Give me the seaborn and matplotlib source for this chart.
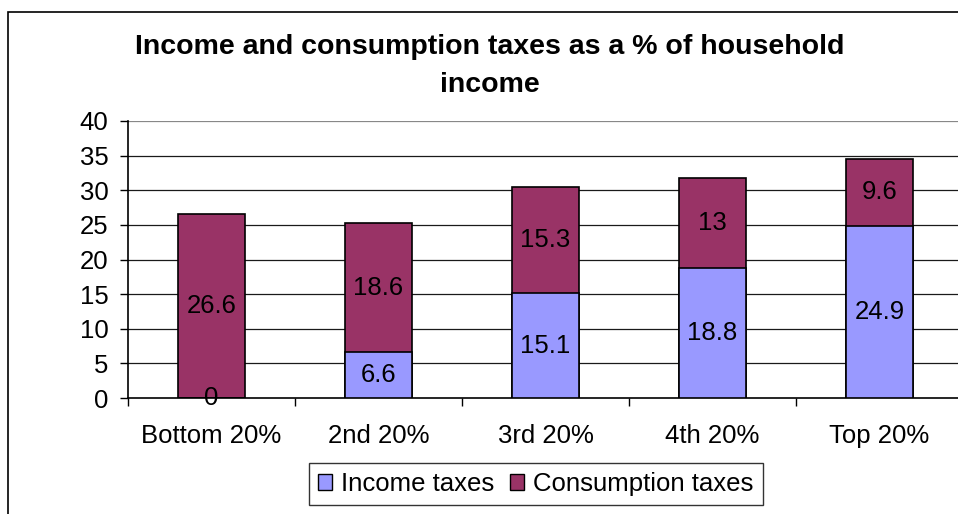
import matplotlib
matplotlib.use("Agg")
import matplotlib.pyplot as plt
import seaborn as sns
import pandas as pd
from matplotlib.patches import Rectangle, Patch

categories = ["Bottom 20%", "2nd 20%", "3rd 20%", "4th 20%", "Top 20%"]
income_taxes = [0, 6.6, 15.1, 18.8, 24.9]
consumption_taxes = [26.6, 18.6, 15.3, 13, 9.6]
income_labels = ["0", "6.6", "15.1", "18.8", "24.9"]
consumption_labels = ["26.6", "18.6", "15.3", "13", "9.6"]
y_ticks = [0, 5, 10, 15, 20, 25, 30, 35, 40]

sns.set_theme(style="white")
plt.rcParams["font.family"] = ["Liberation Sans", "DejaVu Sans"]
plt.rcParams["text.color"] = "black"
plt.rcParams["xtick.color"] = "black"
plt.rcParams["ytick.color"] = "black"
plt.rcParams["axes.labelcolor"] = "black"

df = pd.DataFrame({
    "category": categories,
    "income": income_taxes,
    "consumption": consumption_taxes,
})
df["total"] = df["income"] + df["consumption"]

fig = plt.figure(figsize=(9.58, 5.14), dpi=100)
ax = fig.add_axes([128 / 958, 1 - 398 / 514, 835 / 958, 277 / 514])

c_income = "#9999FF"
c_cons = "#993366"
FS = 18.5

# gridlines
for t in y_ticks[1:]:
    ax.axhline(t, color="#888888" if t == 40 else "#1a1a1a", lw=0.9, zorder=0)

sns.barplot(data=df, x="category", y="total", color=c_cons, width=0.4,
            edgecolor="black", linewidth=1.2, saturation=1, ax=ax, zorder=2)
sns.barplot(data=df, x="category", y="income", color=c_income, width=0.4,
            edgecolor="black", linewidth=1.2, saturation=1, ax=ax, zorder=3)

for i, (inc, con) in enumerate(zip(income_taxes, consumption_taxes)):
    ax.text(i, inc / 2, income_labels[i], ha="center", va="center", fontsize=FS, color="black", zorder=5)
    ax.text(i, inc + con / 2, consumption_labels[i], ha="center", va="center", fontsize=FS, color="black", zorder=5)

ax.set_ylim(0, 40)
ax.set_xlim(-0.5, 4.5)
ax.set_yticks(y_ticks)
ax.set_yticklabels([str(t) for t in y_ticks], fontsize=FS)
ax.set_xticks(range(len(categories)))
ax.set_xticklabels(categories, fontsize=FS)
ax.set_xticks([i - 0.5 for i in range(len(categories) + 1)], minor=True)
ax.tick_params(axis="x", which="major", length=0, pad=19)
ax.tick_params(axis="x", which="minor", length=6, width=1, color="black", direction="out", bottom=True)
ax.tick_params(axis="y", length=6, width=1, color="black", direction="out", left=True, pad=8)
ax.set_xlabel("")
ax.set_ylabel("")
for s in ["top", "right"]:
    ax.spines[s].set_visible(False)
for s in ["left", "bottom"]:
    ax.spines[s].set_color("black")
    ax.spines[s].set_linewidth(1.2)

fig.text(490 / 958, 1 - 66 / 514, "Income and consumption taxes as a % of household\nincome",
         ha="center", va="center", fontsize=20.5, fontweight="bold", linespacing=1.55, color="black")

handles = [Patch(facecolor=c_income, edgecolor="black", label="Income taxes"),
           Patch(facecolor=c_cons, edgecolor="black", label="Consumption taxes")]
leg = fig.legend(handles=handles, loc="center", bbox_to_anchor=(536 / 958, 1 - 484 / 514),
                 ncol=2, fontsize=FS, frameon=True, fancybox=False, handlelength=0.55,
                 handleheight=0.55, handletextpad=0.35, columnspacing=0.6, borderpad=0.35,
                 edgecolor="black")
leg.get_frame().set_linewidth(1.0)

fig.add_artist(Rectangle((8 / 958, -0.1), 1.2, 1 - 12 / 514 + 0.1, transform=fig.transFigure,
                         fill=False, edgecolor="black", linewidth=1.2))

fig.savefig("out.png", dpi=100)
